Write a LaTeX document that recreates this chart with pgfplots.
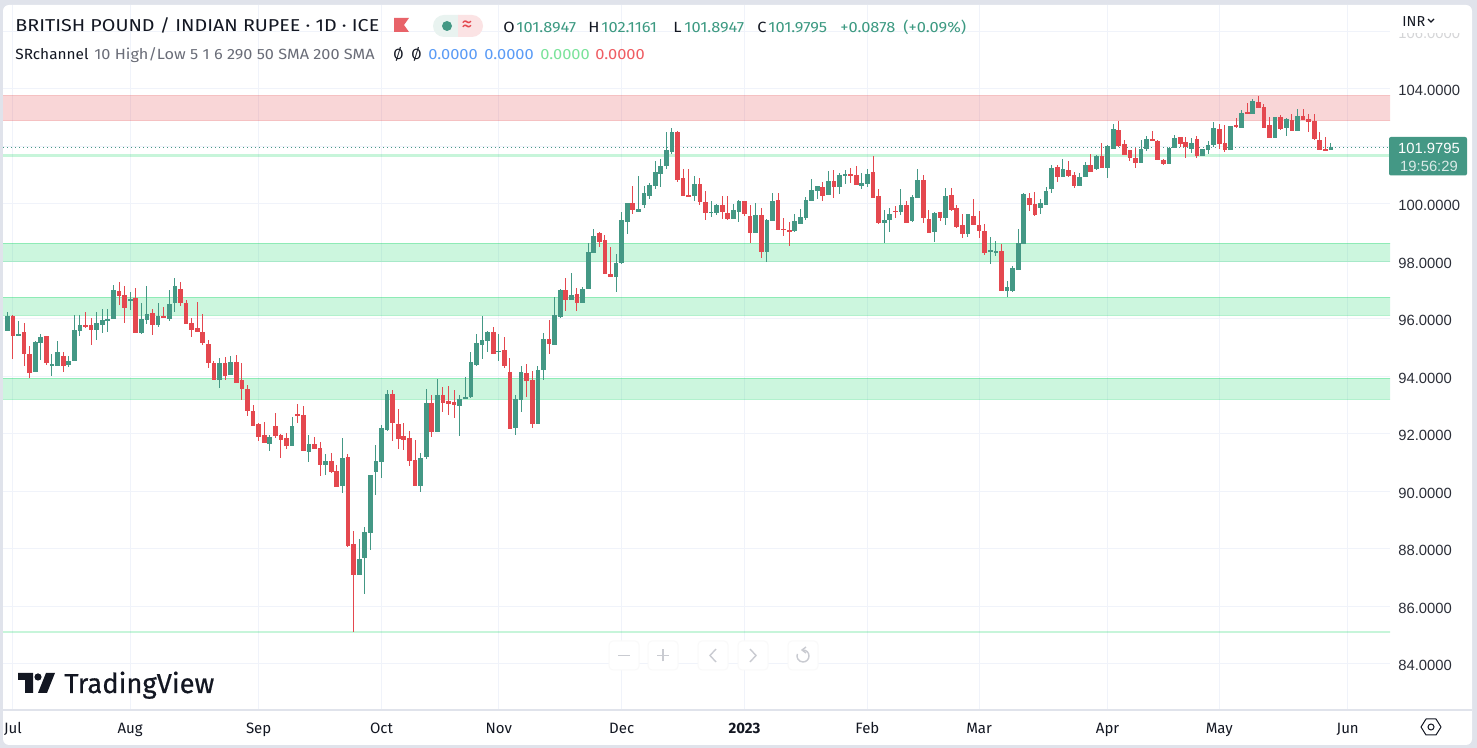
\documentclass[border=0pt]{standalone}
\usepackage{pgfplots}
\usepackage{pgfplotstable}
\usepackage{fontspec}
\pgfplotsset{compat=1.18}
\setmainfont{Fira Sans}
\newfontfamily\pricefont{Liberation Sans}
\newfontfamily\logofont[FakeBold=0.5]{Fira Sans}
\definecolor{cg}{HTML}{449885}
\definecolor{cr}{HTML}{E4484F}
\definecolor{bgc}{HTML}{E0E3EB}
\definecolor{gridc}{HTML}{F0F3FA}
\definecolor{ink}{HTML}{131722}
\definecolor{muted}{HTML}{6A6D78}
\definecolor{bandg}{RGB}{0,211,90}
\definecolor{bandr}{RGB}{225,50,55}
\definecolor{valg}{HTML}{3D9A82}
\definecolor{btn}{HTML}{C9CBD1}
\definecolor{vblue}{HTML}{5B9CF6}
\definecolor{vgreen}{HTML}{7BE39B}
\definecolor{vred}{HTML}{EF5D63}
\pgfplotstableread{
i o h l c
0 95.58 96.25 95.58 96.10
1 96.10 96.14 94.61 95.41
2 95.41 95.93 95.41 95.48
3 95.55 95.86 94.36 94.78
4 94.78 95.06 93.94 94.12
5 94.15 95.23 94.15 95.20
6 95.16 95.48 94.57 95.37
7 95.41 95.41 94.40 94.47
8 94.36 94.78 94.01 94.43
9 94.36 95.23 94.36 94.85
10 94.71 94.85 94.15 94.36
11 94.40 94.71 94.33 94.54
12 94.54 96.14 94.54 95.61
13 95.58 96.14 95.41 95.79
14 95.79 96.24 95.68 95.75
15 95.79 96.03 95.09 95.61
16 95.61 96.24 95.27 95.86
17 95.79 96.34 95.51 95.96
18 95.96 96.34 95.55 96.00
19 96.00 97.18 96.00 97.01
20 96.97 97.28 96.48 96.80
21 96.83 97.15 95.86 96.38
22 96.62 96.94 96.31 96.69
23 96.73 97.08 95.51 95.51
24 95.51 96.55 95.48 96.00
25 95.96 97.15 95.82 96.17
26 96.21 96.34 95.44 95.79
27 95.79 96.55 95.72 96.10
28 96.10 96.41 96.03 96.03
29 96.00 97.01 95.93 96.52
30 96.55 97.42 96.24 97.15
31 97.04 97.28 96.45 96.55
32 96.55 96.66 95.82 95.82
33 95.86 96.03 95.37 95.61
34 95.68 96.59 95.55 95.55
35 95.55 96.17 95.09 95.16
36 95.13 95.27 94.29 94.47
37 94.47 94.54 93.87 93.87
38 93.87 94.64 93.60 94.47
39 94.47 94.67 93.87 94.01
40 94.05 94.71 94.05 94.50
41 94.50 94.74 93.77 93.77
42 93.87 94.47 93.18 93.56
43 93.56 93.70 92.62 92.80
44 92.80 93.01 92.28 92.28
45 92.35 92.38 91.76 91.90
46 91.97 92.42 91.69 91.69
47 91.65 91.97 91.41 91.90
48 92.28 92.73 91.86 91.93
49 91.97 92.00 91.17 91.79
50 91.86 92.04 91.48 91.58
51 91.58 92.59 91.58 92.28
52 92.70 93.04 92.38 92.63
53 92.66 92.98 91.41 91.41
54 91.37 91.97 91.03 91.65
55 91.65 91.90 91.48 91.48
56 91.51 91.72 90.54 90.92
57 90.92 91.30 90.57 91.06
58 91.06 91.34 90.64 90.68
59 90.71 90.92 90.16 90.16
60 90.19 91.86 89.95 91.17
61 91.20 91.30 88.07 88.10
62 88.17 88.63 85.11 87.09
63 87.09 88.35 87.09 87.65
64 87.69 88.76 86.43 88.59
65 88.56 90.57 87.96 90.57
66 90.68 91.62 89.88 91.06
67 91.03 92.31 90.47 92.21
68 92.14 93.53 92.11 93.39
69 93.39 93.53 91.76 92.38
70 92.35 92.87 91.48 91.83
71 91.93 92.38 91.44 91.79
72 91.86 92.11 90.89 91.06
73 91.10 91.79 90.19 90.19
74 90.19 91.34 89.98 91.17
75 91.20 93.57 91.13 93.08
76 93.08 93.36 91.90 92.07
77 92.07 93.91 92.07 93.36
78 93.36 93.64 92.77 93.08
79 93.15 93.67 92.66 93.04
80 93.11 93.53 92.56 93.01
81 92.98 93.36 91.93 93.22
82 93.22 93.97 93.22 93.29
83 93.28 94.85 93.25 94.50
84 94.39 95.47 94.36 95.16
85 95.09 96.10 94.60 95.26
86 95.23 95.58 94.85 95.54
87 95.54 95.72 94.78 94.78
88 94.86 95.47 94.53 94.88
89 94.92 95.37 94.29 94.36
90 94.15 94.64 92.17 92.17
91 92.20 93.35 91.96 93.21
92 93.18 94.36 92.76 94.15
93 94.12 94.43 93.28 93.84
94 93.87 94.19 92.20 92.34
95 92.34 94.36 92.34 94.22
96 94.22 95.51 93.87 95.30
97 95.30 95.96 94.78 95.12
98 95.09 96.76 95.09 96.13
99 96.06 97.04 96.03 97.00
100 97.00 97.42 96.27 96.66
101 96.66 97.60 96.66 96.83
102 96.86 97.07 96.27 96.55
103 96.55 97.11 96.55 97.04
104 97.04 98.64 97.04 98.33
105 98.29 99.13 98.29 98.88
106 98.99 99.02 98.50 98.67
107 98.74 98.92 97.56 97.56
108 97.56 98.50 97.46 97.46
109 97.46 98.26 96.93 97.94
110 97.94 99.72 97.91 99.44
111 99.37 100.03 98.95 100.03
112 100.03 100.62 99.65 99.79
113 99.72 100.97 99.72 99.82
114 99.96 100.62 99.86 100.38
115 100.28 100.73 100.17 100.66
116 100.62 101.49 100.52 101.11
117 101.04 101.56 100.59 101.32
118 101.32 102.50 101.21 101.88
119 101.81 102.64 101.74 102.50
120 102.50 102.54 100.76 100.83
121 100.90 101.21 100.28 100.28
122 100.31 101.21 100.24 100.24
123 100.28 100.97 100.10 100.69
124 100.69 100.90 99.96 100.07
125 100.07 100.45 99.44 99.68
126 99.69 100.11 99.55 99.72
127 99.69 100.00 99.62 99.97
128 99.97 100.28 99.48 99.72
129 99.69 100.28 99.45 99.48
130 99.48 100.00 99.48 99.79
131 99.72 100.14 99.38 100.11
132 100.11 100.11 99.59 99.65
133 99.59 99.97 98.65 98.99
134 98.99 100.04 98.99 99.62
135 99.62 99.86 98.12 98.33
136 98.33 99.48 97.98 99.45
137 99.41 100.39 99.41 100.11
138 100.14 100.39 99.10 99.10
139 99.13 99.52 98.89 99.10
140 99.10 99.38 98.54 99.03
141 99.06 99.65 99.03 99.41
142 99.31 99.83 99.31 99.55
143 99.52 100.25 99.45 100.14
144 100.11 100.87 100.11 100.49
145 100.46 100.63 100.18 100.63
146 100.59 100.77 100.11 100.28
147 100.32 101.15 100.32 100.80
148 100.80 101.19 100.21 100.59
149 100.59 101.08 100.35 101.01
150 100.98 101.19 100.70 101.05
151 101.05 101.26 100.73 100.98
152 101.01 101.33 100.66 100.66
153 100.63 101.08 100.52 100.73
154 100.70 101.22 100.59 101.05
155 101.12 101.67 100.21 100.21
156 100.28 100.52 99.31 99.34
157 99.34 99.79 98.65 99.45
158 99.45 99.86 99.03 99.65
159 99.76 99.93 99.52 99.72
160 99.72 100.52 99.62 99.97
161 99.97 100.11 99.34 99.34
162 99.41 100.32 99.38 100.25
163 100.21 101.22 100.21 100.84
164 100.84 101.01 99.34 99.52
165 99.48 99.79 98.99 98.99
166 99.02 99.72 98.68 99.69
167 99.72 99.72 99.41 99.51
168 99.51 100.56 99.27 100.28
169 100.31 100.56 99.76 99.79
170 99.86 99.96 99.16 99.20
171 99.27 99.65 98.82 98.95
172 98.95 99.65 98.85 99.65
173 99.58 100.17 99.27 99.27
174 99.27 99.76 98.82 99.06
175 99.06 99.30 98.22 98.29
176 98.33 98.85 97.91 98.40
177 98.33 98.71 98.19 98.36
178 98.36 98.61 96.97 96.97
179 96.97 97.32 96.76 97.11
180 96.97 97.84 96.94 97.77
181 97.70 99.13 97.70 98.63
182 98.61 100.38 98.61 100.35
183 100.21 100.38 99.76 99.96
184 100.00 100.42 99.58 99.62
185 99.86 100.17 99.65 100.03
186 99.96 100.59 99.96 100.45
187 100.52 101.36 100.38 101.25
188 101.29 101.36 100.76 100.94
189 100.94 101.56 100.94 101.22
190 101.18 101.50 100.94 100.97
191 101.01 101.11 100.56 100.63
192 100.63 101.08 100.63 100.94
193 100.94 101.46 100.94 101.36
194 101.36 101.74 101.11 101.11
195 101.22 101.70 101.18 101.67
196 101.67 102.12 101.25 101.25
197 101.25 102.05 100.90 102.02
198 101.91 102.78 101.91 102.61
199 102.57 102.89 101.98 102.02
200 102.09 102.23 101.70 101.70
201 101.88 101.88 101.50 101.60
202 101.60 101.95 101.25 101.43
203 101.43 102.23 101.43 101.91
204 101.91 102.37 101.84 102.26
205 102.26 102.54 102.19 102.19
206 102.19 102.22 101.53 101.53
207 101.53 101.56 101.36 101.39
208 101.39 101.97 101.39 101.95
209 101.95 102.40 101.95 102.30
210 102.33 102.33 101.97 102.09
211 102.16 102.33 101.60 101.98
212 101.91 102.30 101.77 102.12
213 102.26 102.37 101.60 101.67
214 101.67 101.91 101.67 101.91
215 101.88 102.19 101.74 102.05
216 102.05 102.85 101.98 102.64
217 102.61 102.78 101.91 102.09
218 102.12 102.75 101.81 101.88
219 101.88 102.71 101.88 102.71
220 102.75 102.99 102.64 102.68
221 102.64 103.27 102.64 103.17
222 103.20 103.51 103.13 103.13
223 103.13 103.65 103.13 103.58
224 103.55 103.76 103.34 103.34
225 103.37 103.48 102.64 102.64
226 102.75 103.03 102.30 102.30
227 102.30 103.03 102.30 103.03
228 103.03 103.10 102.57 102.61
229 102.64 103.00 102.37 102.96
230 102.92 103.13 102.54 102.54
231 102.54 103.30 102.54 103.06
232 103.06 103.30 102.92 102.92
233 102.96 103.13 102.50 102.85
234 102.89 103.13 102.22 102.26
235 102.22 102.50 101.88 101.88
236 101.91 102.33 101.84 101.84
237 101.8947 102.1161 101.8947 101.9795
}\candles
\newcommand{\band}[3]{\addplot[forget plot,fill=#3,fill opacity=0.2,draw=#3,draw opacity=0.3,line width=0.5pt] coordinates {(-3,#1)(250,#1)(250,#2)(-3,#2)} -- cycle;}
\newcommand{\thinband}[2]{\addplot[forget plot,fill=bandg,fill opacity=0.22,draw=none] coordinates {(-3,#1)(250,#1)(250,#2)(-3,#2)} -- cycle;}
\pgfplotsset{
  wick/.style={forget plot,draw=none,mark=none,error bars/.cd,y dir=both,y explicit,error mark=none,error bar style={draw=#1,line width=0.5pt}},
  body/.style={forget plot,draw=none,mark=none,error bars/.cd,y dir=both,y explicit,error mark=none,error bar style={draw=#1,line width=2.35pt}},
}
\newcommand{\sx}[1]{\scalebox{1.11}[1]{#1}}
\begin{document}
\begin{tikzpicture}[x=0.5pt,y=0.5pt]
\useasboundingbox (0,0) rectangle (1477,748);
\fill[bgc] (0,0) rectangle (1477,748);
\fill[white,rounded corners=3pt] (3,3) rectangle (1472,743);
\begin{axis}[
  at={(1.5pt,19pt)},anchor=south west,
  scale only axis,width=693.5pt,height=352.5pt,
  xmin=-0.77,xmax=247.57,ymin=82.40,ymax=106.92,
  axis line style={draw=none},
  major tick length=0pt,
  grid=major,grid style={color=gridc,line width=0.5pt},
  xtick={1,22,45,67,88,110,132,154,174,197,217,240},
  xticklabels={Jul,Aug,Sep,Oct,Nov,Dec,\textbf{2023},Feb,Mar,Apr,May,Jun},
  xticklabel style={font=\fontsize{7.5}{8}\selectfont,text=ink,anchor=base,yshift=-12pt},
  ytick={84,86,88,90,92,94,96,98,100,102,104,106},
  yticklabel pos=right,
  yticklabel style={font=\pricefont\fontsize{7.4}{8}\selectfont,text=ink!90,anchor=west,inner sep=0pt,xshift=4pt,yshift=-0.75pt,
    /pgf/number format/.cd,fixed,fixed zerofill,precision=4,1000 sep={},assume math mode=true},
  clip=true,
]
\band{103.757}{102.904}{bandr}
\thinband{101.72}{101.65}
\band{98.63}{98.00}{bandg}
\band{96.755}{96.13}{bandg}
\band{93.94}{93.20}{bandg}
\thinband{85.15}{85.08}
\addplot[forget plot,cg,line width=0.5pt,dash pattern=on 0.5pt off 1.5pt] coordinates {(-0.77,101.9795)(247.57,101.9795)};
\addplot[wick=cg] table[x=i,y expr={\thisrow{c}>=\thisrow{o} ? (\thisrow{h}+\thisrow{l})/2 : nan},y error expr={(\thisrow{h}-\thisrow{l})/2}] {\candles};
\addplot[wick=cr] table[x=i,y expr={\thisrow{c}<\thisrow{o} ? (\thisrow{h}+\thisrow{l})/2 : nan},y error expr={(\thisrow{h}-\thisrow{l})/2}] {\candles};
\addplot[body=cg] table[x=i,y expr={\thisrow{c}>=\thisrow{o} ? (\thisrow{c}+\thisrow{o})/2 : nan},y error expr={max(abs(\thisrow{c}-\thisrow{o})/2,0.02)}] {\candles};
\addplot[body=cr] table[x=i,y expr={\thisrow{c}<\thisrow{o} ? (\thisrow{c}+\thisrow{o})/2 : nan},y error expr={max(abs(\thisrow{c}-\thisrow{o})/2,0.02)}] {\candles};
\end{axis}
% axis separators
\draw[bgc,line width=0.9pt] (3,38) -- (1472,38);
% veil over the clipped 106 label
\fill[white] (1392,715) rectangle (1470,738);
\fill[white,opacity=0.8] (1392,705) rectangle (1470,715);
% header
\node[anchor=base west,inner sep=0pt,text=ink,font=\fontsize{8.6}{10}\selectfont] at (15,716) {\scalebox{1.145}[1]{BRITISH POUND / INDIAN RUPEE · 1D · ICE}};
\fill[cr!85!white] (394,730) -- (409,730) -- (404,723) -- (409,716) -- (394,716) -- cycle;
\fill[cg!12!white] (444,733) arc (90:270:11) -- (458,711) -- (458,733) -- cycle;
\fill[cr!15!white] (458,733) -- (472,733) arc (90:-90:11) -- (458,711) -- cycle;
\fill[cg] (447,722) circle (5);
\node[text=cr,inner sep=0pt,font=\fontsize{11}{11}\selectfont] at (467,722) {≈};
\begin{scope}[every node/.style={anchor=base west,inner sep=0pt,font=\fontsize{7.4}{9}\selectfont}]
\node[text=ink] at (503,715) {\sx{O}};
\node[text=valg] at (516,715) {\sx{101.8947}};
\node[text=ink] at (588,715) {\sx{H}};
\node[text=valg] at (601,715) {\sx{102.1161}};
\node[text=ink] at (673,715) {\sx{L}};
\node[text=valg] at (684,715) {\sx{101.8947}};
\node[text=ink] at (757,715) {\sx{C}};
\node[text=valg] at (768,715) {\sx{101.9795}};
\node[text=valg] at (840,715) {\sx{+0.0878}};
\node[text=valg] at (903,715) {\sx{(+0.09\%)}};
\node[text=ink] at (15,688) {\scalebox{1.04}[1]{SRchannel}};
\node[text=muted] at (94,688) {\scalebox{1.10}[1]{10 High/Low 5 1 6 290 50 SMA 200 SMA}};
\node[text=ink] at (393,688) {Ø};
\node[text=ink] at (411,688) {Ø};
\node[text=vblue] at (428,688) {\sx{0.0000}};
\node[text=vblue] at (484,688) {\sx{0.0000}};
\node[text=vgreen] at (540,688) {\sx{0.0000}};
\node[text=vred] at (595,688) {\sx{0.0000}};
\end{scope}
% currency
\node[anchor=base west,inner sep=0pt,text=ink,font=\fontsize{7.2}{8}\selectfont] at (1402,721) {INR};
\draw[ink,line width=0.6pt] (1428,729) -- (1431,726) -- (1434,729);
% last price label
\fill[cg,rounded corners=1pt] (1389,611) rectangle (1467,572.5);
\node[text=white,inner sep=0pt,font=\pricefont\fontsize{7.4}{8}\selectfont] at (1429,599.5) {101.9795};
\node[text=white!80!cg,inner sep=0pt,font=\pricefont\fontsize{7.4}{8}\selectfont] at (1429,581.5) {19:56:29};
% settings hexagon
\draw[ink,line width=0.5pt,line join=round] (1421,21) -- (1426,29) -- (1436,29) -- (1441,21) -- (1436,13) -- (1426,13) -- cycle;
\draw[ink,line width=0.5pt] (1431,21) circle (3);
% chart navigation buttons
\foreach \xa in {609,648,698,738,788} {\draw[gray!5,fill=white,line width=0.5pt,rounded corners=2pt] (\xa,78) rectangle ++(30,29);}
\draw[btn,line width=0.7pt] (618,92.5) -- (630,92.5);
\draw[btn,line width=0.7pt] (657,92.5) -- (669,92.5) (663,86.5) -- (663,98.5);
\draw[btn,line width=0.7pt] (716,99) -- (710,92.5) -- (716,86);
\draw[btn,line width=0.7pt] (750,99) -- (756,92.5) -- (750,86);
\draw[btn,line width=0.7pt] (803,98) arc (90:-200:6);
\draw[btn,line width=0.7pt] (806,101) -- (802,98) -- (806,95);
% logo
\fill[ink] (18,75) -- (33,75) -- (33,55) -- (25,55) -- (25,68) -- (18,68) -- cycle;
\fill[ink] (38,71) circle (3.6);
\fill[ink] (46,75) -- (55,75) -- (47,55) -- (38,55) -- cycle;
\node[anchor=base west,inner sep=0pt,text=ink,font=\logofont\fontsize{13.7}{14}\selectfont] at (64,55) {TradingView};
\end{tikzpicture}
\end{document}
